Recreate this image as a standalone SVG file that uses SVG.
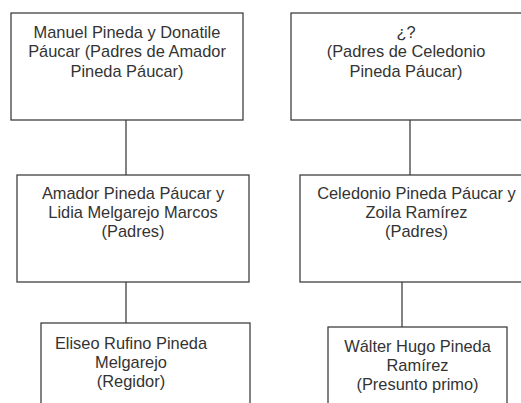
<svg xmlns="http://www.w3.org/2000/svg" width="521" height="403" viewBox="0 0 521 403">
<style>
.box{fill:#fff;stroke:#404040;stroke-width:1.3}
.con{stroke:#404040;stroke-width:1.3;fill:none}
text{font-family:"Liberation Sans",Arial,sans-serif;font-size:16.4px;fill:#333;text-anchor:middle}
</style>
<rect width="521" height="403" fill="#fff"/>
<g id="connectors">
<line class="con" x1="126" y1="120" x2="126" y2="175"/>
<line class="con" x1="126" y1="282" x2="126" y2="323"/>
<line class="con" x1="410" y1="120" x2="410" y2="175"/>
<line class="con" x1="402" y1="279" x2="402" y2="327"/>
</g>
<g id="n1">
<rect class="box" x="11" y="13" width="232" height="107"/>
<text x="127" y="37.5">Manuel Pineda y Donatile</text>
<text x="127" y="57">Páucar (Padres de Amador</text>
<text x="127" y="76.5">Pineda Páucar)</text>
</g>
<g id="n2">
<rect class="box" x="291" y="13" width="232" height="107"/>
<text x="406" y="37.5">¿?</text>
<text x="406" y="57">(Padres de Celedonio</text>
<text x="406" y="76.5">Pineda Páucar)</text>
</g>
<g id="n3">
<rect class="box" x="17" y="175" width="232" height="107"/>
<text x="133" y="198.5">Amador Pineda Páucar y</text>
<text x="133" y="218">Lidia Melgarejo Marcos</text>
<text x="133" y="237">(Padres)</text>
</g>
<g id="n4">
<rect class="box" x="300" y="175" width="233" height="107"/>
<text x="416.5" y="198.5">Celedonio Pineda Páucar y</text>
<text x="416.5" y="218">Zoila Ramírez</text>
<text x="416.5" y="237">(Padres)</text>
</g>
<g id="n5">
<rect class="box" x="41" y="323" width="209" height="100"/>
<text x="131" y="348.5">Eliseo Rufino Pineda</text>
<text x="131" y="367.5">Melgarejo</text>
<text x="131" y="387">(Regidor)</text>
</g>
<g id="n6">
<rect class="box" x="328" y="327" width="179" height="100"/>
<text x="417.5" y="352">Wálter Hugo Pineda</text>
<text x="417.5" y="371">Ramírez</text>
<text x="417.5" y="390">(Presunto primo)</text>
</g>
</svg>
